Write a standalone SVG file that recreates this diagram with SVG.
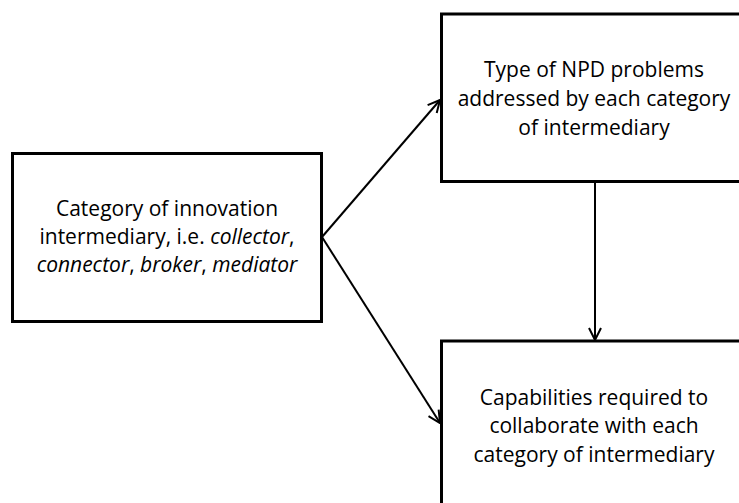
<svg xmlns="http://www.w3.org/2000/svg" width="739" height="503" viewBox="0 0 739 503">
<style>
.box{fill:#fff;stroke:#000;stroke-width:3}
.t{font-family:"Open Sans","Liberation Sans",sans-serif;font-size:21px;fill:#000;text-anchor:middle}
.c{stroke:#000;stroke-width:2;fill:none}
</style>
<defs>
<marker id="arr" viewBox="0 0 14 14" refX="13" refY="7" markerWidth="14" markerHeight="14" markerUnits="userSpaceOnUse" orient="auto">
<path d="M1,1 L13,7 L1,13" fill="none" stroke="#000" stroke-width="2"/>
</marker>
</defs>
<rect width="739" height="503" fill="#fff"/>
<g id="node-category">
<rect class="box" x="12.5" y="153.5" width="309" height="168"/>
<text class="t" x="167" y="216">Category of innovation</text>
<text class="t" x="167" y="244">intermediary, i.e. <tspan font-style="italic">collector</tspan>,</text>
<text class="t" x="167" y="272"><tspan font-style="italic">connector</tspan>, <tspan font-style="italic">broker</tspan>, <tspan font-style="italic">mediator</tspan></text>
</g>
<g id="node-npd">
<rect class="box" x="441.5" y="14" width="320" height="167.5"/>
<text class="t" x="594" y="77">Type of NPD problems</text>
<text class="t" x="594" y="106">addressed by each category</text>
<text class="t" x="594" y="135">of intermediary</text>
</g>
<g id="node-capabilities">
<rect class="box" x="441.5" y="341" width="320" height="180"/>
<text class="t" x="594" y="405">Capabilities required to</text>
<text class="t" x="594" y="433">collaborate with each</text>
<text class="t" x="594" y="462">category of intermediary</text>
</g>
<g id="connectors">
<line class="c" x1="322" y1="237" x2="440" y2="100" marker-end="url(#arr)"/>
<line class="c" x1="322" y1="237" x2="440" y2="423" marker-end="url(#arr)"/>
<line class="c" x1="595" y1="182" x2="595" y2="340" marker-end="url(#arr)"/>
</g>
</svg>
